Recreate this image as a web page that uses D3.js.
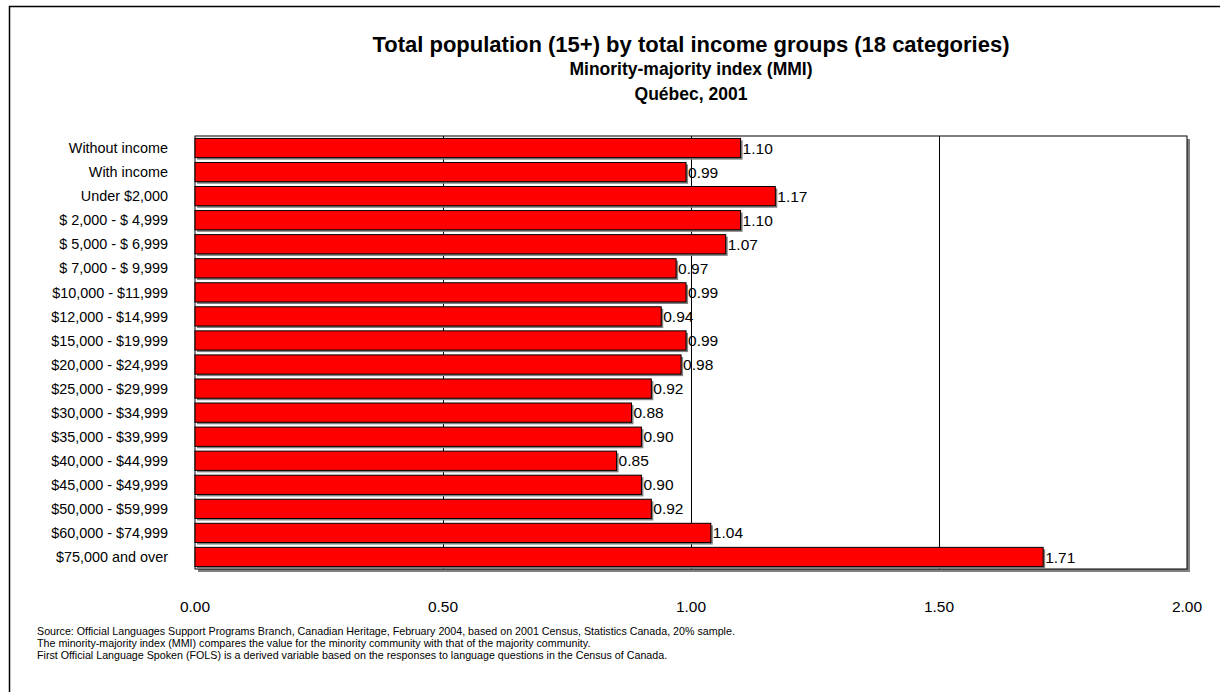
<!DOCTYPE html>
<html>
<head>
<meta charset="utf-8">
<script src="https://cdn.jsdelivr.net/npm/d3@7"></script>
<style>
  html, body { margin: 0; padding: 0; background: #fff; }
  svg { display: block; font-family: "Liberation Sans", Arial, sans-serif; }
</style>
</head>
<body>
<svg id="chart" width="1220" height="692"></svg>
<script>
// Income groups and their minority-majority index values
const categories = [
  "Without income", "With income", "Under $2,000",
  "$ 2,000 - $ 4,999", "$ 5,000 - $ 6,999", "$ 7,000 - $ 9,999",
  "$10,000 - $11,999", "$12,000 - $14,999", "$15,000 - $19,999",
  "$20,000 - $24,999", "$25,000 - $29,999", "$30,000 - $34,999",
  "$35,000 - $39,999", "$40,000 - $44,999", "$45,000 - $49,999",
  "$50,000 - $59,999", "$60,000 - $74,999", "$75,000 and over"
];
const mmiValues = [1.10, 0.99, 1.17, 1.10, 1.07, 0.97, 0.99, 0.94, 0.99,
                   0.98, 0.92, 0.88, 0.90, 0.85, 0.90, 0.92, 1.04, 1.71];
const xTicks = [0, 0.5, 1.0, 1.5, 2.0];
const gridValues = [0.5, 1.0, 1.5];

const titles = [
  "Total population (15+) by total income groups (18 categories)",
  "Minority-majority index (MMI)",
  "Québec, 2001"
];
const notes = [
  "Source:  Official Languages Support Programs Branch, Canadian Heritage, February 2004, based on 2001 Census, Statistics Canada, 20% sample.",
  "The minority-majority index (MMI) compares the value for the minority community with that of the majority community.",
  "First Official Language Spoken (FOLS) is a derived variable based on the responses to language questions in the Census of Canada."
];

const svg = d3.select("#chart");
const plot = { left: 195, top: 136, right: 1187, bottom: 569 };

// Outer chart border (runs off the right and bottom edges)
svg.append("rect")
  .attr("x", 9.5).attr("y", 6.5)
  .attr("width", 1230).attr("height", 700)
  .attr("fill", "none").attr("stroke", "#000").attr("stroke-width", 1.5);

const x = d3.scaleLinear().domain([0, 2]).range([plot.left, plot.right]);
const y = d3.scaleBand().domain(categories)
  .range([plot.top, plot.bottom]).paddingInner(0.2).paddingOuter(0.1);

// Plot area frame with drop shadow
svg.append("rect")
  .attr("x", plot.left + 3).attr("y", plot.top + 3)
  .attr("width", plot.right - plot.left).attr("height", plot.bottom - plot.top)
  .attr("fill", "#808080");
svg.append("rect")
  .attr("x", plot.left).attr("y", plot.top)
  .attr("width", plot.right - plot.left).attr("height", plot.bottom - plot.top)
  .attr("fill", "#fff").attr("stroke", "#000").attr("stroke-width", 1);

// Vertical gridlines
svg.append("g").selectAll("line").data(gridValues).join("line")
  .attr("x1", d => Math.round(x(d)) + 0.5).attr("x2", d => Math.round(x(d)) + 0.5)
  .attr("y1", plot.top).attr("y2", plot.bottom)
  .attr("stroke", "#000").attr("stroke-width", 1);

// Bar shadows
svg.append("g").selectAll("rect").data(mmiValues).join("rect")
  .attr("x", x(0) + 2)
  .attr("y", (d, i) => y(categories[i]) + 2)
  .attr("width", d => x(d) - x(0))
  .attr("height", y.bandwidth())
  .attr("fill", "#808080");

// Bars
svg.append("g").selectAll("rect").data(mmiValues).join("rect")
  .attr("x", x(0))
  .attr("y", (d, i) => y(categories[i]))
  .attr("width", d => x(d) - x(0))
  .attr("height", y.bandwidth())
  .attr("fill", "#ff0000").attr("stroke", "#000").attr("stroke-width", 1);

// Value labels
svg.append("g").selectAll("text").data(mmiValues).join("text")
  .attr("x", d => x(d) + 2)
  .attr("y", (d, i) => y(categories[i]) + y.bandwidth() / 2)
  .attr("dy", "0.36em")
  .attr("font-size", 15.5)
  .text(d => d.toFixed(2));

// Category axis labels
svg.append("g").selectAll("text").data(categories).join("text")
  .attr("x", 168)
  .attr("y", d => y(d) + y.bandwidth() / 2)
  .attr("dy", "0.36em")
  .attr("text-anchor", "end")
  .attr("font-size", 14.4)
  .text(d => d);

// Value axis tick labels
svg.append("g").selectAll("text").data(xTicks).join("text")
  .attr("x", d => x(d))
  .attr("y", 606)
  .attr("dy", "0.36em")
  .attr("text-anchor", "middle")
  .attr("font-size", 15.5)
  .text(d => d.toFixed(2));

// Titles
const titleSizes = [22, 17.5, 17.5];
const titleY = [44, 69, 94];
svg.append("g").selectAll("text").data(titles).join("text")
  .attr("x", 691)
  .attr("y", (d, i) => titleY[i])
  .attr("dy", "0.36em")
  .attr("text-anchor", "middle")
  .attr("font-weight", "bold")
  .attr("font-size", (d, i) => titleSizes[i])
  .text(d => d);

// Footnotes
svg.append("g").selectAll("text").data(notes).join("text")
  .attr("x", 37)
  .attr("y", (d, i) => 631 + i * 12)
  .attr("dy", "0.36em")
  .attr("font-size", 10.7)
  .text(d => d);
</script>
</body>
</html>
